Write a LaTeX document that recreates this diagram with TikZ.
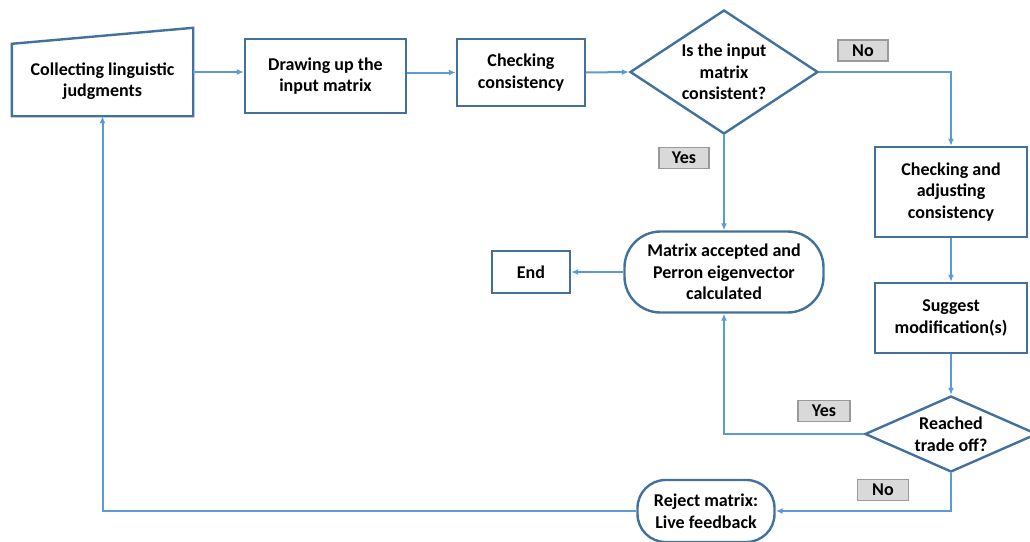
\documentclass[tikz,border=0pt]{standalone}
\usepackage{fontspec}
\setmainfont{Carlito}
\usetikzlibrary{shapes.geometric,arrows.meta,calc}
\definecolor{boxc}{HTML}{41719C}
\definecolor{arrc}{HTML}{5B9BD5}
\definecolor{lblfill}{HTML}{D9D9D9}
\definecolor{lbldraw}{HTML}{9A9A9A}
\tikzset{
  every node/.style={font=\fontsize{18}{21.5}\selectfont\bfseries, align=center},
  procbox/.style={draw=boxc, line width=2.4pt, rectangle, inner sep=0pt},
  roundbox/.style={draw=boxc, line width=2.4pt, rectangle, inner sep=0pt},
  decision/.style={draw=boxc, line width=2.4pt, diamond, inner sep=0pt},
  lbl/.style={draw=lbldraw, fill=lblfill, line width=1.6pt, minimum height=21pt, inner sep=0pt},
  conn/.style={draw=arrc, line width=2pt, -{Latex[length=7pt,width=6pt]}}
}
\begin{document}
\begin{tikzpicture}[x=1pt,y=-1pt]
\useasboundingbox (0,0) rectangle (1030,541);
% manual input
\node[minimum width=181pt, minimum height=88pt, inner sep=0pt] (coll) at (102.5,72) {};
\draw[boxc, line width=2.4pt] (coll.south west) -- (coll.south east) -- (coll.north east) -- ($(coll.north west)+(0,16)$) -- cycle;
\node (colltxt) at (102.5,81) {Collecting linguistic\\judgments};
\node[procbox, minimum width=161pt, minimum height=74pt] (draw) at (325.5,76) {Drawing up the\\input matrix};
\node[procbox, minimum width=128pt, minimum height=67pt] (check) at (521,72.5) {Checking\\consistency};
\node[decision, minimum width=188pt, minimum height=124pt, aspect=1.5] (dia1) at (724,72) {Is the input\\matrix\\consistent?};
\node[procbox, minimum width=152pt, minimum height=90pt] (adj) at (951,192) {Checking and\\adjusting\\consistency};
\node[procbox, minimum width=152pt, minimum height=70pt] (sugg) at (951,318) {Suggest\\modification(s)};
\node[decision, minimum width=172pt, minimum height=76pt, aspect=2.26] (dia2) at (951,434) {Reached\\trade off?};
\node[roundbox, rounded corners=36pt, minimum width=199pt, minimum height=81pt] (acc) at (724,272) {Matrix accepted and\\Perron eigenvector\\calculated};
\node[procbox, minimum width=78pt, minimum height=42pt] (end) at (531,272) {End};
\node[roundbox, rounded corners=28pt, minimum width=137pt, minimum height=62pt] (rej) at (706,511) {Reject matrix:\\Live feedback};
% labels
\node[lbl, minimum width=50pt] (no1) at (863,50.5) {No};
\node[lbl, minimum width=50pt] (yes1) at (684,158) {Yes};
\node[lbl, minimum width=52pt] (yes2) at (824,411) {Yes};
\node[lbl, minimum width=51pt] (no2) at (883,490) {No};
% connectors
\draw[conn] (coll.east) -- (draw.west |- coll.east);
\draw[conn] (draw.east |- check.west) -- (check.west);
\draw[conn] (check.east) -- (dia1.west);
\draw[conn] (dia1.east) -| (adj.north);
\draw[conn] (dia1.south) -- (acc.north);
\draw[conn] (adj.south) -- (sugg.north);
\draw[conn] (sugg.south) -- (dia2.north);
\draw[conn] (dia2.west) -| (acc.south);
\draw[conn] (dia2.south) |- (rej.east);
\draw[conn] (acc.west) -- (end.east);
\draw[conn] (rej.west) -| (coll.south);
\end{tikzpicture}
\end{document}
